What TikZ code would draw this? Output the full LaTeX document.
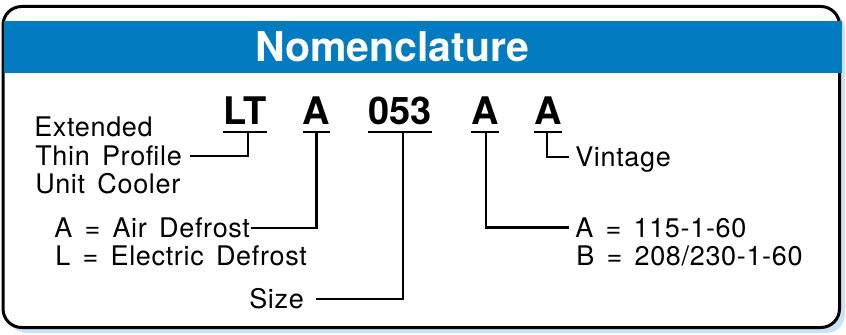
\documentclass[tikz,border=0pt]{standalone}
\usepackage{fontspec}
\setmainfont{TeX Gyre Heros}
\newfontfamily\lblfont[LetterSpace=2.5,WordSpace=1.5]{TeX Gyre Heros}
\usetikzlibrary{calc}
\definecolor{bandblue}{HTML}{037BC0}
\definecolor{shadeblue}{HTML}{C9E3F5}
\begin{document}
\begin{tikzpicture}[x=0.75pt,y=-0.75pt,
  lbl/.style={inner sep=0pt, font=\lblfont\fontsize{20.25}{24}\selectfont, text height=14.5pt, text depth=0pt},
  codebox/.style={inner sep=0pt, font=\fontsize{28.5}{30}\selectfont\bfseries, text height=20.5pt, text depth=0pt},
  titlebox/.style={inner sep=0pt, text=white, font=\fontsize{30.75}{32}\selectfont\bfseries},
  conn/.style={line width=1.6pt},
  uline/.style={line width=2pt},
]
\useasboundingbox (0,0) rectangle (846,335);
% frame
\fill[shadeblue, rounded corners=14] (8,11) rectangle (845,333);
\draw[line width=2.25pt, fill=white, rounded corners=14] (3,6.5) rectangle (839.5,327.5);
\fill[bandblue] (3.5,21) rectangle (842,73);
\node[titlebox, anchor=base] (title) at (392,62) {Nomenclature};

% code letters
\node[codebox, anchor=base] (lt) at (245,124) {LT};
\node[codebox, anchor=base] (a1) at (316.5,124) {A};
\node[codebox, anchor=base] (num) at (400,124) {053};
\node[codebox, anchor=base] (a2) at (485,124) {A};
\node[codebox, anchor=base] (a3) at (548,124) {A};
\foreach \c in {lt,a1,num,a2,a3}{
  \draw[uline] ($(\c.base west)+(0,8)$) -- ($(\c.base east)+(0,8)$);
}

% labels
\node[lbl, anchor=base west] (ext) at (34,137) {Extended};
\node[lbl, anchor=west] (thin) at (35,156) {Thin Profile};
\node[lbl, anchor=base west] (unit) at (35,193) {Unit Cooler};
\node[lbl, anchor=west] (air) at (54,228) {A = Air Defrost};
\node[lbl, anchor=base west] (elec) at (55,265) {L = Electric Defrost};
\node[lbl, anchor=west] (size) at (249,299) {Size};
\node[lbl, anchor=west] (vint) at (575,157) {Vintage};
\node[lbl, anchor=west] (volta) at (575,227.5) {A = 115-1-60};
\node[lbl, anchor=base west] (voltb) at (576,265) {B = 208/230-1-60};

% connectors
\draw[conn] ($(lt.base)+(3,8)$) |- ($(thin.east)+(8,0)$);
\draw[conn] ($(a1.base)+(0,8)$) |- ($(air.east)+(1,0)$);
\draw[conn] ($(num.base)+(3,8)$) |- ($(size.east)+(12,0)$);
\draw[conn] ($(a2.base)+(1,8)$) |- ($(volta.west)+(-6,0)$);
\draw[conn] ($(a3.base)+(-1,8)$) |- ($(vint.west)+(-6,0)$);
\end{tikzpicture}
\end{document}
